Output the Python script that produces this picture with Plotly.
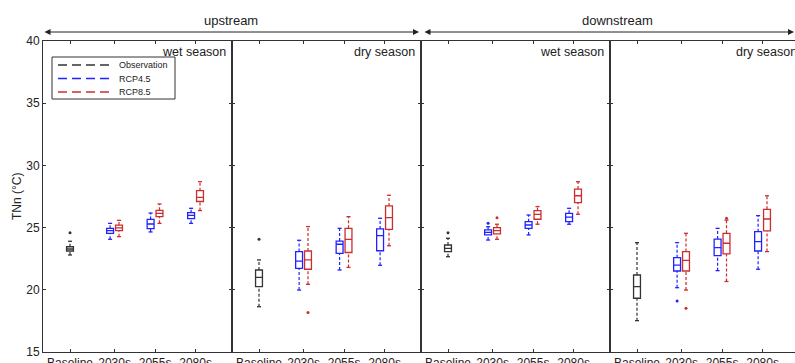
import plotly.graph_objects as go

# ---------------- data ----------------
panel_titles = ["wet season", "dry season", "wet season", "dry season"]
region_labels = ["upstream", "downstream"]
periods = ["Baseline", "2030s", "2055s", "2080s"]
period_pos = [1.0, 2.1, 3.1, 4.1]

# [lower whisker, q1, median, q3, upper whisker] per panel
obs_stats = [
    [22.80, 23.12, 23.28, 23.46, 23.90],
    [18.64, 20.25, 21.00, 21.59, 22.40],
    [22.66, 23.07, 23.33, 23.60, 24.14],
    [17.52, 19.32, 20.25, 21.19, 23.79],
]
# per panel: 2030s, 2055s, 2080s
rcp45_stats = [
    [[24.06, 24.54, 24.75, 24.94, 25.34], [24.65, 24.92, 25.29, 25.66, 26.17], [25.34, 25.72, 25.99, 26.20, 26.55]],
    [[19.98, 21.73, 22.31, 23.07, 23.98], [21.59, 22.93, 23.66, 23.92, 24.94], [21.97, 23.14, 24.35, 24.89, 25.75]],
    [[24.00, 24.41, 24.62, 24.81, 25.07], [24.41, 24.94, 25.21, 25.48, 26.01], [25.27, 25.48, 25.85, 26.15, 26.55]],
    [[20.17, 21.51, 21.99, 22.58, 23.79], [21.54, 22.74, 23.39, 24.08, 24.94], [21.65, 23.12, 23.87, 24.67, 25.96]],
]
rcp85_stats = [
    [[24.27, 24.75, 24.98, 25.20, 25.58], [25.34, 25.88, 26.15, 26.39, 26.90], [26.37, 27.10, 27.43, 27.97, 28.69]],
    [[20.44, 21.65, 22.40, 23.12, 25.08], [21.80, 23.00, 24.06, 24.94, 25.88], [23.54, 24.86, 25.80, 26.74, 27.60]],
    [[24.06, 24.49, 24.75, 25.00, 25.27], [25.27, 25.67, 26.07, 26.37, 26.69], [26.07, 27.00, 27.56, 28.10, 28.69]],
    [[19.98, 21.51, 22.37, 23.07, 24.54], [20.67, 22.88, 23.74, 24.54, 25.60], [23.07, 24.73, 25.69, 26.47, 27.56]],
]
# outliers: per panel, per period index
obs_outliers = [[24.59], [24.06], [24.59], []]
rcp45_outliers = [[[], [], []], [[], [], []], [[25.34], [], []], [[19.10], [], []]]
rcp85_outliers = [[[], [], []], [[18.17], [], []], [[25.80], [], []], [[18.51], [25.75], []]]

series_names = ["Observation", "RCP4.5", "RCP8.5"]
series_colors = ["#333333", "#2222ff", "#cc2e2e"]

# ---------------- layout helpers ----------------
W, H = 795, 363
ml, mt, mb = 43, 41, 11
plot_w = W - ml
plot_h = H - mt - mb
panel_px = 189
unit_px = 40.5
x_lo = 1.0 - 27 / unit_px
offset = 0.11
box_w = 0.17
cap_half = 0.05

fig = go.Figure()


def px_x(px):
    return (px - ml) / plot_w


def px_y(py):
    return 1 - (py - mt) / plot_h


def add_group(ax, ay, positions, stats, outs, color):
    # boxes (no whiskers; whiskers drawn dashed below)
    for pos, st in zip(positions, stats):
        fig.add_trace(go.Box(
            x=[pos], lowerfence=[st[1]], q1=[st[1]], median=[st[2]], q3=[st[3]], upperfence=[st[3]],
            width=box_w, whiskerwidth=0, line=dict(color=color, width=1.3),
            fillcolor="rgba(0,0,0,0)", boxpoints=False, showlegend=False,
            hoverinfo="skip", xaxis=ax, yaxis=ay))
    wx, wy, cx, cy, ox, oy = [], [], [], [], [], []
    for pos, st, ol in zip(positions, stats, outs):
        wx += [pos, pos, None, pos, pos, None]
        wy += [st[0], st[1], None, st[3], st[4], None]
        cx += [pos - cap_half, pos + cap_half, None, pos - cap_half, pos + cap_half, None]
        cy += [st[0], st[0], None, st[4], st[4], None]
        ox += [pos] * len(ol)
        oy += list(ol)
    fig.add_trace(go.Scatter(x=wx, y=wy, mode="lines", line=dict(color=color, width=1.2, dash="3px,2px"),
                             showlegend=False, hoverinfo="skip", xaxis=ax, yaxis=ay))
    fig.add_trace(go.Scatter(x=cx, y=cy, mode="lines", line=dict(color=color, width=1.3),
                             showlegend=False, hoverinfo="skip", xaxis=ax, yaxis=ay))
    if ox:
        fig.add_trace(go.Scatter(x=ox, y=oy, mode="markers", marker=dict(color=color, size=3),
                                 showlegend=False, hoverinfo="skip", xaxis=ax, yaxis=ay))


for p in range(4):
    ax = "x" if p == 0 else f"x{p+1}"
    ay = "y" if p == 0 else f"y{p+1}"
    add_group(ax, ay, [period_pos[0]], [obs_stats[p]], [obs_outliers[p]], series_colors[0])
    add_group(ax, ay, [v - offset for v in period_pos[1:]], rcp45_stats[p], rcp45_outliers[p], series_colors[1])
    add_group(ax, ay, [v + offset for v in period_pos[1:]], rcp85_stats[p], rcp85_outliers[p], series_colors[2])

font_family = "Liberation Sans, Arial, Helvetica, sans-serif"
axis_common = dict(ticks="inside", ticklen=3, tickcolor="#333", showline=True,
                   linecolor="#333", linewidth=1, showgrid=False, zeroline=False,
                   automargin=False)

layout = dict(
    width=W, height=H, margin=dict(l=ml, r=0, t=mt, b=mb),
    paper_bgcolor="white", plot_bgcolor="white", template="none",
    boxmode="overlay", showlegend=False,
    font=dict(family=font_family, size=11, color="#222"),
)

for p in range(4):
    sx = "" if p == 0 else str(p + 1)
    d0 = p * panel_px / plot_w
    d1 = min(1.0, (p + 1) * panel_px / plot_w)
    width_px = (d1 - d0) * plot_w
    layout[f"xaxis{sx}"] = dict(
        axis_common, domain=[d0, d1], range=[x_lo, x_lo + width_px / unit_px],
        tickvals=period_pos, ticktext=periods, mirror="ticks", anchor=f"y{sx}",
        tickfont=dict(size=12))
    layout[f"yaxis{sx}"] = dict(
        axis_common, domain=[0, 1], range=[15, 40], anchor=f"x{sx}",
        tickvals=[15, 20, 25, 30, 35, 40], mirror="ticks" if p < 3 else False,
        showticklabels=(p == 0), tickfont=dict(size=12))

fig.update_layout(**layout)

# y axis title
fig.add_annotation(text="TNn (°C)", xref="paper", yref="paper", x=px_x(17), y=px_y(197),
                   textangle=-90, showarrow=False, font=dict(size=12, color="#222"),
                   xanchor="center", yanchor="middle")

# panel titles
for p, t in enumerate(panel_titles):
    sx = "" if p == 0 else str(p + 1)
    width_px = min(panel_px, plot_w - p * panel_px)
    fig.add_annotation(text=t, xref=f"x{sx} domain", yref="paper",
                       x=1 - 4 / width_px if p < 3 else 1 + 4 / width_px,
                       y=1 - 2 / plot_h, xanchor="right", yanchor="top",
                       showarrow=False, font=dict(size=12.5, color="#222"))

# legend (drawn inside the first panel)
leg_x0, leg_x1, leg_y0, leg_y1 = 52, 175, 57, 99
fig.add_shape(type="rect", xref="paper", yref="paper", x0=px_x(leg_x0), x1=px_x(leg_x1),
              y0=px_y(leg_y1), y1=px_y(leg_y0), line=dict(color="#333", width=1),
              fillcolor="white", layer="above")
for i, (name, color) in enumerate(zip(series_names, series_colors)):
    ry = 65 + i * 13.5
    fig.add_shape(type="line", xref="paper", yref="paper", x0=px_x(58), x1=px_x(111),
                  y0=px_y(ry), y1=px_y(ry), line=dict(color=color, width=1.3, dash="9px,5px"),
                  layer="above")
    fig.add_annotation(text=name, xref="paper", yref="paper", x=px_x(117), y=px_y(ry),
                       xanchor="left", yanchor="middle", showarrow=False,
                       font=dict(size=9, color="#222"))

# region arrows and labels
arrow_y = px_y(32)
label_y = px_y(21)
arrows = [(px_x(43), px_x(419), 231), (px_x(423), px_x(798), 617)]
for (a0, a1, lx), lab in zip(arrows, region_labels):
    fig.add_annotation(x=a1, y=arrow_y, ax=-(a1 - a0) * plot_w, ay=0, xref="paper", yref="paper",
                       axref="pixel", ayref="pixel", text="", showarrow=True,
                       arrowhead=2, startarrowhead=2, arrowside="end+start",
                       arrowsize=1.2, arrowwidth=1, arrowcolor="#222",
                       standoff=0, startstandoff=0)
    fig.add_annotation(x=px_x(lx), y=label_y, xref="paper", yref="paper",
                       text=lab, showarrow=False, font=dict(size=13, color="#222"),
                       xanchor="center", yanchor="middle")

fig.write_html("out.html")
